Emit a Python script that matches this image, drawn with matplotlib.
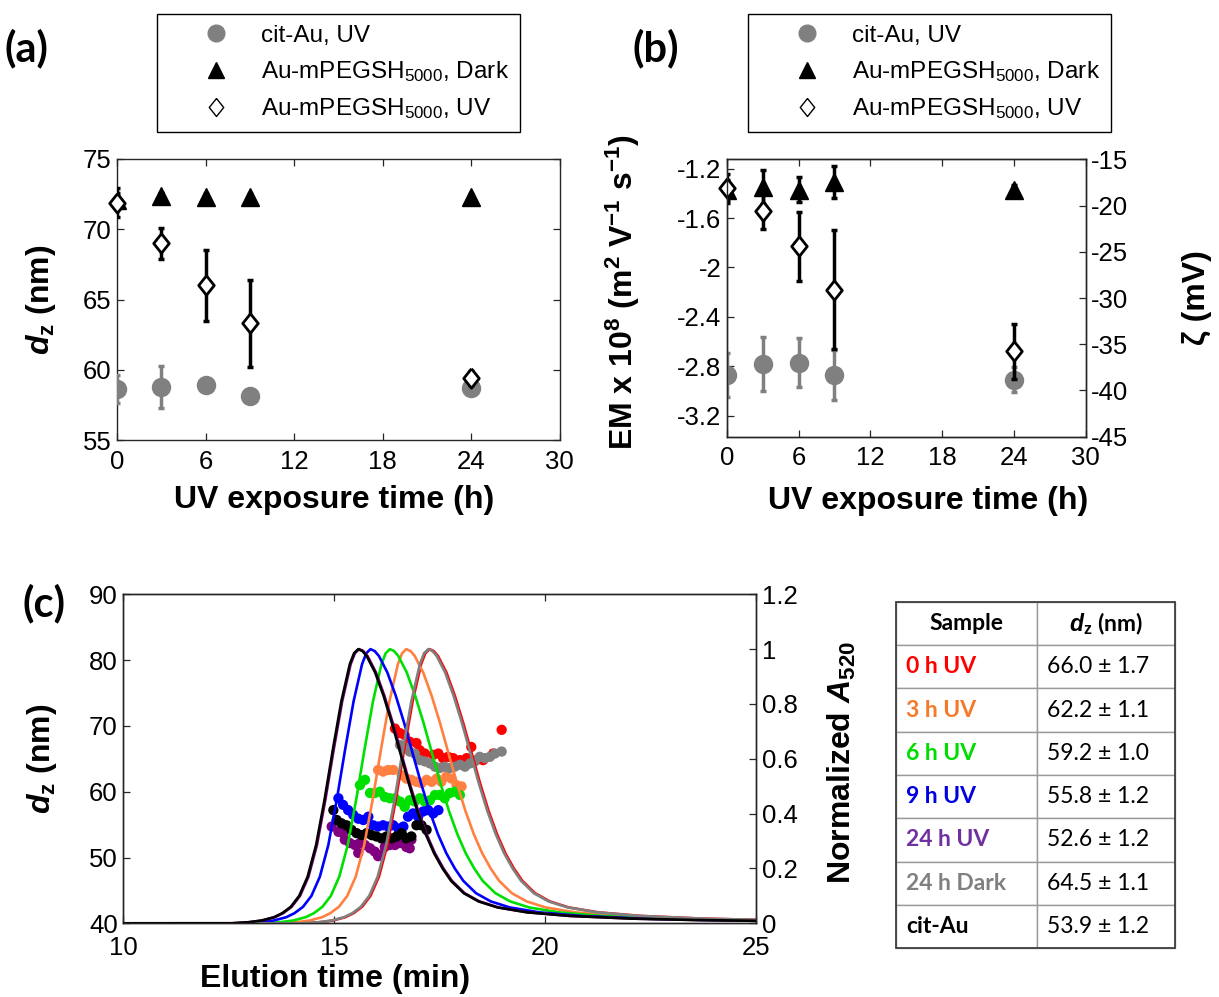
import numpy as np
import matplotlib.pyplot as plt
from matplotlib.lines import Line2D
from matplotlib.patches import Rectangle

plt.rcParams['font.family'] = ['Liberation Sans', 'DejaVu Sans']
plt.rcParams['mathtext.fontset'] = 'custom'
plt.rcParams['mathtext.rm'] = 'Liberation Sans'
plt.rcParams['mathtext.it'] = 'Liberation Sans:italic'
plt.rcParams['mathtext.bf'] = 'Liberation Sans:bold'
plt.rcParams['mathtext.bfit'] = 'Liberation Sans:italic:bold'
plt.rcParams['axes.unicode_minus'] = False

# ---- (a)/(b): size and mobility vs UV exposure ----
uv_time = [0, 3, 6, 9, 24]

dz_cit = [58.6, 58.8, 58.9, 58.1, 58.7]
dz_cit_err = [1.0, 1.5, 0.3, 0.3, 0.3]
dz_dark = [72.1, 72.4, 72.3, 72.3, 72.3]
dz_dark_err = [0.5, 0.2, 0.2, 0.2, 0.2]
dz_uv = [71.9, 69.0, 66.0, 63.3, 59.4]
dz_uv_err = [1.05, 1.1, 2.5, 3.1, 0.5]

em_cit = [-2.87, -2.78, -2.77, -2.87, -2.91]
em_cit_err = [0.18, 0.22, 0.20, 0.20, 0.10]
em_dark = [-1.37, -1.35, -1.37, -1.31, -1.37]
em_dark_err = [0.08, 0.14, 0.10, 0.13, 0.04]
em_uv = [-1.36, -1.54, -1.83, -2.18, -2.68]
em_uv_err = [0.12, 0.15, 0.28, 0.48, 0.22]

em_lim = (-3.371, -1.124)
zeta_lim = (-45, -15)

# ---- (c): AF4 fractograms ----
samples = ['0 h UV', '3 h UV', '6 h UV', '9 h UV', '24 h UV', '24 h Dark', 'cit-Au']
line_colors = ['#ff0000', '#ff8040', '#00e000', '#0000ff', '#800080', '#808080', '#000000']
text_colors = ['#ff0000', '#f47a2a', '#00dd00', '#0000e0', '#7030a0', '#808080', '#000000']
peak_time = [17.26, 16.71, 16.32, 15.86, 15.59, 17.23, 15.57]

# normalized A520 profile around the peak (min from peak, absorbance)
profile_dt = [-6.0, -3.0, -2.6, -2.3, -2.0, -1.8, -1.6, -1.4, -1.2, -1.0, -0.8, -0.6,
              -0.4, -0.2, -0.1, 0.0, 0.1, 0.2, 0.4, 0.6, 0.8, 1.0, 1.2, 1.4, 1.6,
              1.8, 2.0, 2.2, 2.5, 2.85, 3.3, 4.0, 5.0, 6.5, 8.0, 10.0]
profile_a = [0.0, 0.0, 0.004, 0.010, 0.022, 0.037, 0.060, 0.100, 0.170, 0.285, 0.450,
             0.635, 0.810, 0.945, 0.985, 1.0, 0.993, 0.975, 0.915, 0.83, 0.73, 0.62,
             0.51, 0.41, 0.325, 0.255, 0.20, 0.155, 0.11, 0.08, 0.058, 0.040, 0.027,
             0.017, 0.012, 0.008]

t_0h = [16.44, 16.56, 16.67, 16.79, 16.95, 17.03, 17.15, 17.35, 17.47, 17.58, 17.70,
        17.82, 17.98, 18.14, 18.25, 18.37, 18.53, 18.77, 18.97]
dz_0h = [69.6, 68.9, 68.6, 67.6, 67.4, 66.3, 65.8, 65.6, 65.8, 65.1, 65.3,
         65.1, 64.8, 65.1, 66.8, 64.8, 64.8, 65.8, 69.4]
t_3h = [16.04, 16.16, 16.28, 16.40, 16.60, 16.71, 16.83, 16.95, 17.07, 17.19, 17.31,
        17.43, 17.54, 17.66, 17.78, 17.90, 18.02]
dz_3h = [63.3, 63.05, 63.3, 63.3, 62.5, 62.0, 61.8, 61.5, 61.3, 61.8, 61.5,
         62.0, 61.5, 62.3, 62.0, 61.0, 60.8]
t_6h = [15.61, 15.73, 15.85, 15.96, 16.08, 16.20, 16.32, 16.44, 16.56, 16.67, 16.79,
        16.91, 17.03, 17.15, 17.27, 17.39, 17.50, 17.62, 17.74, 17.86, 17.98]
dz_6h = [61.0, 61.8, 59.8, 59.8, 60.0, 59.2, 59.0, 59.0, 58.5, 57.7, 58.7,
         58.5, 59.0, 58.5, 58.7, 59.5, 59.5, 59.0, 59.8, 60.0, 59.5]
t_9h = [15.10, 15.21, 15.33, 15.45, 15.57, 15.69, 15.81, 15.92, 16.04, 16.16, 16.28,
        16.40, 16.52, 16.64, 16.75, 16.87, 16.99, 17.11, 17.23, 17.35, 17.47]
dz_9h = [59.0, 58.0, 57.2, 56.5, 55.9, 55.7, 56.2, 54.9, 54.7, 54.9, 54.7,
         54.9, 54.4, 54.7, 56.2, 56.7, 56.2, 57.0, 57.2, 56.7, 57.2]
t_24h = [14.94, 15.10, 15.21, 15.25, 15.37, 15.49, 15.57, 15.61, 15.73, 15.85, 15.96,
         16.04, 16.08, 16.20, 16.32, 16.44, 16.56, 16.60, 16.71, 16.79, 16.83]
dz_24h = [54.7, 53.9, 53.7, 52.7, 52.2, 51.9, 50.7, 52.2, 51.9, 51.4, 50.9,
          50.2, 50.4, 51.6, 51.9, 51.9, 52.2, 53.2, 51.6, 51.4, 52.7]
t_dark = [16.56, 16.67, 16.79, 16.91, 17.03, 17.15, 17.27, 17.39, 17.50, 17.62, 17.74,
          17.86, 17.98, 18.10, 18.22, 18.33, 18.45, 18.57, 18.69, 18.81, 18.97]
dz_dark24 = [67.1, 66.8, 66.1, 65.8, 64.8, 64.6, 64.3, 63.8, 63.6, 63.8, 63.6,
             63.8, 64.1, 63.8, 64.3, 64.6, 65.3, 65.1, 65.3, 65.8, 66.1]
t_cit = [14.98, 15.06, 15.17, 15.29, 15.41, 15.53, 15.65, 15.77, 15.89, 16.00, 16.12,
         16.24, 16.36, 16.48, 16.60, 16.71, 16.83, 16.95, 17.07, 17.19]
dz_cit_af4 = [57.2, 55.7, 55.2, 54.9, 54.2, 53.7, 53.4, 53.7, 53.4, 53.2, 52.9,
              53.2, 52.9, 53.2, 53.7, 52.9, 53.2, 54.9, 54.9, 54.2]

scatter_t = [t_0h, t_3h, t_6h, t_9h, t_24h, t_dark, t_cit]
scatter_dz = [dz_0h, dz_3h, dz_6h, dz_9h, dz_24h, dz_dark24, dz_cit_af4]

table_mean = [66.0, 62.2, 59.2, 55.8, 52.6, 64.5, 53.9]
table_sd = [1.7, 1.1, 1.0, 1.2, 1.2, 1.1, 1.2]

W, H = 1219, 997
fig = plt.figure(figsize=(W / 100, H / 100), dpi=100)

diamond = [(0, 1), (0.8, 0), (0, -1), (-0.8, 0), (0, 1)]
LABEL_FS = 23
TICK_FS = 18.5
spine_c = '#262626'


def style_axes(ax):
    for s in ax.spines.values():
        s.set_color(spine_c)
        s.set_linewidth(1.0)
    ax.tick_params(direction='in', length=5, width=0.9, labelsize=TICK_FS, pad=4,
                   colors=spine_c, labelcolor='k')
    ax.tick_params(axis='x', pad=7)


def series(ax, y, err, kind):
    if kind == 'cit':
        ax.errorbar(uv_time, y, yerr=err, fmt='o', ms=13, color='#808080',
                    ecolor='#808080', elinewidth=2.5, capsize=2.4, capthick=2.5, zorder=3)
    elif kind == 'dark':
        ax.errorbar(uv_time, y, yerr=err, fmt='^', ms=13, color='k',
                    ecolor='k', elinewidth=2.5, capsize=2.4, capthick=2.5, zorder=4)
    else:
        ax.errorbar(uv_time, y, yerr=err, fmt='none', ecolor='k', elinewidth=2.5,
                    capsize=2.4, capthick=2.5, zorder=5)
        ax.plot(uv_time, y, ls='none', marker=diamond, ms=14, mfc='w', mec='k',
                mew=2.0, zorder=6, clip_on=False)


def add_legend(ax, x0):
    handles = [Line2D([], [], ls='none', marker='o', ms=12, color='#808080'),
               Line2D([], [], ls='none', marker='^', ms=12, color='k'),
               Line2D([], [], ls='none', marker=diamond, ms=13, mfc='w', mec='k', mew=1.0)]
    labels = ['cit-Au, UV', r'Au-mPEGSH$_{5000}$, Dark', r'Au-mPEGSH$_{5000}$, UV']
    leg = ax.legend(handles, labels, loc='upper left', mode='expand',
                    bbox_to_anchor=(x0 / W, 1 - 14 / H, 363 / W, 0),
                    bbox_transform=fig.transFigure, fontsize=17.5, numpoints=1,
                    borderpad=0.45, handlelength=3.95, handletextpad=-0.12,
                    labelspacing=0.5, fancybox=False, framealpha=1,
                    edgecolor='k', borderaxespad=0)
    leg.get_frame().set_linewidth(1.0)


dz_label = r'$\mathbfit{d}_{\mathbf{z}}$ (nm)'

# (a) z-average diameter
ax_a = fig.add_axes([117 / W, 1 - 440 / H, 442.5 / W, 281 / H])
series(ax_a, dz_cit, dz_cit_err, 'cit')
series(ax_a, dz_dark, dz_dark_err, 'dark')
series(ax_a, dz_uv, dz_uv_err, 'uv')
ax_a.set_xlim(0, 30)
ax_a.set_ylim(55, 75)
ax_a.set_xticks(range(0, 31, 6))
ax_a.set_yticks(range(55, 76, 5))
style_axes(ax_a)
ax_a.tick_params(top=True, right=True)
ax_a.set_xlabel('UV exposure time (h)', fontsize=LABEL_FS, fontweight='bold', va='center')
ax_a.set_ylabel(dz_label, fontsize=LABEL_FS, fontweight='bold', va='center')
ax_a.xaxis.set_label_coords(0.49, -0.215)
ax_a.yaxis.set_label_coords(-0.172, 0.5)
add_legend(ax_a, 157)

# (b) electrophoretic mobility / zeta potential
ax_b = fig.add_axes([726.7 / W, 1 - 436.7 / H, 359 / W, 277.4 / H])
series(ax_b, em_cit, em_cit_err, 'cit')
series(ax_b, em_dark, em_dark_err, 'dark')
series(ax_b, em_uv, em_uv_err, 'uv')
ax_b.set_xlim(0, 30)
ax_b.set_ylim(*em_lim)
ax_b.set_xticks(range(0, 31, 6))
ax_b.set_yticks([-3.2, -2.8, -2.4, -2.0, -1.6, -1.2])
ax_b.set_yticklabels([f'{v:g}' for v in [-3.2, -2.8, -2.4, -2.0, -1.6, -1.2]])
style_axes(ax_b)
ax_b.tick_params(top=True, right=False)
ax_b.set_xlabel('UV exposure time (h)', fontsize=LABEL_FS, fontweight='bold', va='center')
ax_b.set_ylabel(r'EM x 10$^{\mathbf{8}}$ (m$^{\mathbf{2}}$ V$^{\mathbf{-1}}$ s$^{\mathbf{-1}}$)',
                fontsize=LABEL_FS, fontweight='bold', va='center')
ax_b.xaxis.set_label_coords(0.56, -0.23)
ax_b.yaxis.set_label_coords(-0.29, 0.52)
ax_bz = ax_b.twinx()
ax_bz.set_ylim(*zeta_lim)
ax_bz.set_yticks(range(-45, -14, 5))
style_axes(ax_bz)
ax_bz.set_ylabel('ζ (mV)', fontsize=LABEL_FS, fontweight='bold', rotation=90, va='center')
ax_bz.yaxis.set_label_coords(1.31, 0.5)
add_legend(ax_b, 748)

# (c) size and A520 across elution
ax_c = fig.add_axes([123.3 / W, 1 - 923.3 / H, 632.7 / W, 329 / H])
for t, dz, col in zip(scatter_t, scatter_dz, line_colors):
    ax_c.scatter(t, dz, s=55, color=col, edgecolors='none', zorder=3)
ax_c.set_xlim(10, 25)
ax_c.set_ylim(40, 90)
ax_c.set_xticks([10, 15, 20, 25])
ax_c.set_yticks(range(40, 91, 10))
style_axes(ax_c)
ax_c.tick_params(top=True, right=False)
ax_c.tick_params(axis='x', pad=9)
ax_c.set_xlabel('Elution time (min)', fontsize=LABEL_FS, fontweight='bold', va='center')
ax_c.set_ylabel(dz_label, fontsize=LABEL_FS, fontweight='bold', va='center')
ax_c.xaxis.set_label_coords(0.335, -0.17)
ax_c.yaxis.set_label_coords(-0.128, 0.5)

ax_c2 = ax_c.twinx()
dt = np.array(profile_dt)
for tp, col in zip(peak_time, line_colors):
    ax_c2.plot(tp + dt, profile_a, color=col, lw=1.9, solid_joinstyle='round')
ax_c2.set_xlim(10, 25)
ax_c2.set_ylim(0, 1.2)
ax_c2.set_yticks([0, 0.2, 0.4, 0.6, 0.8, 1.0, 1.2])
ax_c2.set_yticklabels(['0', '0.2', '0.4', '0.6', '0.8', '1', '1.2'])
style_axes(ax_c2)
ax_c2.set_ylabel(r'Normalized $\mathbfit{A}_{\mathbf{520}}$', fontsize=LABEL_FS,
                 fontweight='bold', rotation=90, va='center')
ax_c2.yaxis.set_label_coords(1.136, 0.49)

# summary table
tax = fig.add_axes([896 / W, 1 - 948.3 / H, 279 / W, 346.6 / H])
tax.axis('off')
cell_text = [[s, f'{m:.1f} ± {e:.1f}'] for s, m, e in zip(samples, table_mean, table_sd)]
tbl = tax.table(cellText=cell_text, colLabels=['Sample', r'$\mathbfit{d}_{\mathbf{z}}$ (nm)'],
                colWidths=[0.506, 0.494], bbox=[0, 0, 1, 1], cellLoc='left', colLoc='center')
tbl.auto_set_font_size(False)
for (r, c), cell in tbl.get_celld().items():
    cell.set_edgecolor('#9a9a9a')
    cell.set_linewidth(1.0)
    cell.PAD = 0.07
    txt = cell.get_text()
    txt.set_fontfamily(['Lato', 'DejaVu Sans'])
    txt.set_fontsize(16.5)
    if r == 0:
        txt.set_fontweight('bold')
    elif c == 0:
        txt.set_fontweight('bold')
        txt.set_color(text_colors[r - 1])
tax.add_patch(Rectangle((0, 0), 1, 1, transform=tax.transAxes, fill=False,
                        ec='#404040', lw=1.3, clip_on=False))

for lbl, x, y in [('(a)', 5, 48), ('(b)', 632, 48), ('(c)', 22, 603)]:
    fig.text(x / W, 1 - y / H, lbl, fontsize=30, fontweight='bold', va='center',
             family=['Lato', 'DejaVu Sans'])

fig.savefig('out.png', dpi=100)
